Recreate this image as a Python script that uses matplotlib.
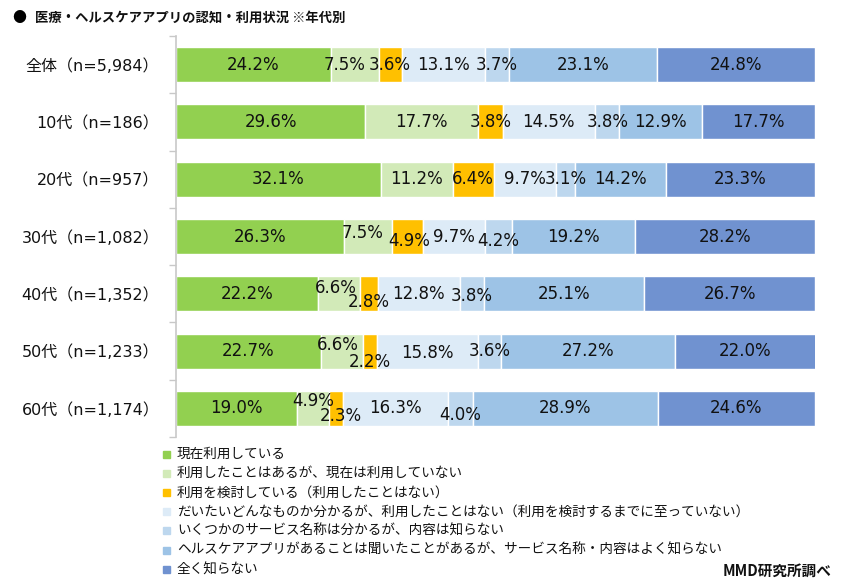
import matplotlib
matplotlib.use("Agg")
import matplotlib.pyplot as plt
from matplotlib.patches import Rectangle
import numpy as np

plt.rcParams['font.family'] = ['DejaVu Sans', 'Noto Sans CJK JP']

categories = ["全体（n=5,984）", "10代（n=186）", "20代（n=957）", "30代（n=1,082）",
              "40代（n=1,352）", "50代（n=1,233）", "60代（n=1,174）"]
series_names = ["現在利用している",
                "利用したことはあるが、現在は利用していない",
                "利用を検討している（利用したことはない）",
                "だいたいどんなものか分かるが、利用したことはない（利用を検討するまでに至っていない）",
                "いくつかのサービス名称は分かるが、内容は知らない",
                "ヘルスケアアプリがあることは聞いたことがあるが、サービス名称・内容はよく知らない",
                "全く知らない"]
values = [
    [24.2, 7.5, 3.6, 13.1, 3.7, 23.1, 24.8],
    [29.6, 17.7, 3.8, 14.5, 3.8, 12.9, 17.7],
    [32.1, 11.2, 6.4, 9.7, 3.1, 14.2, 23.3],
    [26.3, 7.5, 4.9, 9.7, 4.2, 19.2, 28.2],
    [22.2, 6.6, 2.8, 12.8, 3.8, 25.1, 26.7],
    [22.7, 6.6, 2.2, 15.8, 3.6, 27.2, 22.0],
    [19.0, 4.9, 2.3, 16.3, 4.0, 28.9, 24.6],
]
title = "医療・ヘルスケアアプリの認知・利用状況 ※年代別"
source = "MMD研究所調べ"

colors = ["#92D050", "#D2EAB8", "#FFC000", "#DDEBF7", "#BDD7EE", "#9DC3E6", "#7092D0"]

# label offsets in pixels (row, series) -> (dx, dy); positive dy = down
label_offsets = {
    (0, 1): (-10, 0),
    (3, 1): (-5, -3), (3, 2): (2, 4), (3, 4): (0, 5),
    (4, 1): (-3, -6), (4, 2): (0, 8), (4, 4): (0, 2),
    (5, 1): (-4, -6), (5, 2): (0, 11), (5, 3): (0, 2),
    (6, 1): (0, -7), (6, 2): (5, 8), (6, 4): (0, 7),
}

W, H = 841, 587
fig = plt.figure(figsize=(W / 100, H / 100), dpi=100)
ax = fig.add_axes([176 / W, 1 - 437 / H, (815 - 176) / W, (437 - 36) / H])

n = len(categories)
y = np.arange(n)
vals = np.array(values)
left = np.zeros(n)
for j in range(vals.shape[1]):
    ax.barh(y, vals[:, j], left=left, height=0.61, color=colors[j],
            edgecolor="white", linewidth=1.0)
    for i in range(n):
        dx, dy = label_offsets.get((i, j), (0, 0))
        ax.annotate(f"{vals[i, j]:.1f}%", (left[i] + vals[i, j] / 2, y[i]),
                    xytext=(dx * 0.72, -dy * 0.72), textcoords="offset points",
                    ha="center", va="center", fontsize=12, color="#111111",
                    family=['DejaVu Sans'])
    left += vals[:, j]

ax.set_xlim(0, 100)
ax.set_ylim(n - 0.5, -0.5)
ax.set_xticks([])
ax.set_yticks(y)
ax.set_yticklabels(categories, fontsize=11.5, color="#111111")
ax.set_yticks(np.arange(n + 1) - 0.5, minor=True)
ax.tick_params(axis='y', which='major', length=0, pad=12)
ax.tick_params(axis='y', which='minor', length=5, color="#C8C8C8", width=1)
for s in ["top", "right", "bottom"]:
    ax.spines[s].set_visible(False)
ax.spines["left"].set_color("#C8C8C8")
ax.spines["left"].set_linewidth(1.2)

# title
fig.text(12 / W, 1 - 18 / H, "●", fontsize=10, ha="left", va="center",
         color="black", family=['Noto Sans CJK JP', 'DejaVu Sans'])
fig.text(35 / W, 1 - 18 / H, title, fontsize=9.6, fontweight="bold", ha="left",
         va="center", color="#111111", family=['Noto Sans CJK JP', 'DejaVu Sans'])

# legend (manual)
for k, (name, c) in enumerate(zip(series_names, colors)):
    yc = 454 + k * 19.2
    fig.patches.append(Rectangle((163 / W, 1 - (yc + 3.5) / H), 7 / W, 7 / H,
                                 transform=fig.transFigure, color=c))
    fig.text(177 / W, 1 - yc / H, name, fontsize=9.8, ha="left", va="center",
             color="#111111", family=['Noto Sans CJK JP', 'DejaVu Sans'])

fig.text(832 / W, 1 - 571 / H, source, fontsize=10.5, fontweight="bold", ha="right",
         va="center", color="#111111", family=['Noto Sans CJK JP', 'DejaVu Sans'])

fig.savefig("out.png", dpi=100)
